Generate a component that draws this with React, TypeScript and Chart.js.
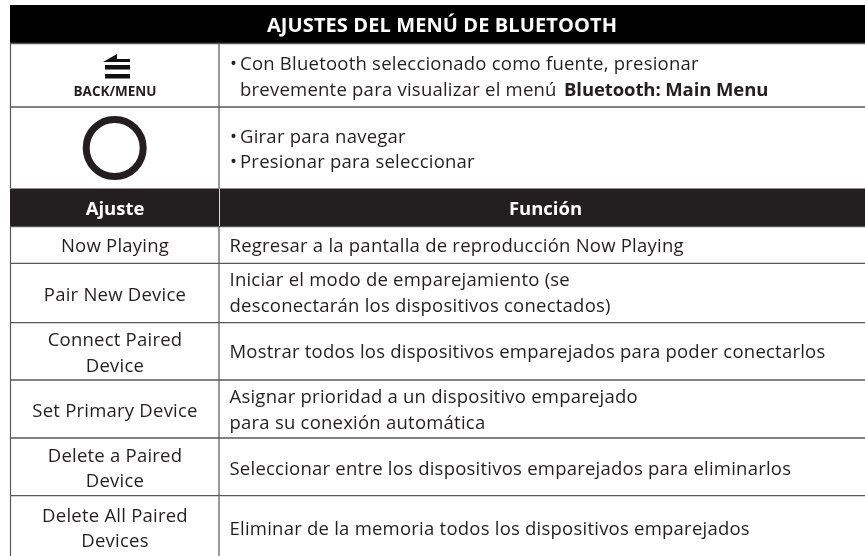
import React, { useEffect, useRef } from "react";
import { Chart, registerables } from "chart.js";

Chart.register(...registerables);

const W = 865;
const H = 556;
const FONT = '"Open Sans"';
const BODY_SIZE = 18.5;
const BODY_SPACING = "0.23px";
const INK = "#231f20";

const titleText = "AJUSTES DEL MENÚ DE BLUETOOTH";
const backLabel = "BACK/MENU";
const headerLabels = ["Ajuste", "Función"];
const settingLines = [
  ["Now Playing"],
  ["Pair New Device"],
  ["Connect Paired", "Device"],
  ["Set Primary Device"],
  ["Delete a Paired", "Device"],
  ["Delete All Paired", "Devices"],
];
const functionLines = [
  ["Regresar a la pantalla de reproducción Now Playing"],
  ["Iniciar el modo de emparejamiento (se", "desconectarán los dispositivos conectados)"],
  ["Mostrar todos los dispositivos emparejados para poder conectarlos"],
  ["Asignar prioridad a un dispositivo emparejado", "para su conexión automática"],
  ["Seleccionar entre los dispositivos emparejados para eliminarlos"],
  ["Eliminar de la memoria todos los dispositivos emparejados"],
];
const backIntro = ["Con Bluetooth seleccionado como fuente, presionar", "brevemente para visualizar el menú"];
const backBold = "Bluetooth: Main Menu";
const knobLines = ["Girar para navegar", "Presionar para seleccionar"];

const settingBaselines = [[252], [301], [346, 372], [417], [462, 487], [522, 547]];
const functionBaselines = [[252], [286, 312], [358], [403, 429], [475], [535]];
const ruleYs = [43.5, 107, 226.7, 263.3, 322.7, 380, 438, 495.7];

export default function App() {
  const ref = useRef<HTMLCanvasElement | null>(null);
  useEffect(() => {
    document.body.style.margin = "0";
    const tablePlugin = {
      id: "tablePlugin",
      beforeDatasetsDraw(chart: any) {
        const { ctx, scales } = chart;
        const X = (v: number) => scales.x.getPixelForValue(v);
        const Y = (v: number) => scales.y.getPixelForValue(v);
        ctx.save();
        ctx.fillStyle = "#000000";
        ctx.fillRect(X(10), Y(5), X(865) - X(10), Y(43) - Y(5));
        ctx.fillStyle = INK;
        ctx.fillRect(X(10), Y(188.5), X(865) - X(10), Y(226.5) - Y(188.5));
        ctx.restore();
      },
      afterDatasetsDraw(chart: any) {
        const { ctx, scales } = chart;
        const X = (v: number) => scales.x.getPixelForValue(v);
        const Y = (v: number) => scales.y.getPixelForValue(v);
        const text = (s: string, x: number, y: number, align: CanvasTextAlign, weight: number, size: number, color: string, sp = BODY_SPACING) => {
          ctx.font = `${weight} ${size}px ${FONT}`;
          (ctx as any).letterSpacing = sp;
          ctx.textAlign = align;
          ctx.textBaseline = "alphabetic";
          ctx.fillStyle = color;
          ctx.fillText(s, X(x), Y(y));
        };
        ctx.save();
        ctx.strokeStyle = "#d8d8d8";
        ctx.lineWidth = 1;
        ctx.beginPath();
        ctx.moveTo(X(219.5), Y(189));
        ctx.lineTo(X(219.5), Y(226));
        ctx.stroke();

        ctx.fillStyle = "#111111";
        ctx.beginPath();
        ctx.moveTo(X(103), Y(62));
        ctx.lineTo(X(117), Y(54));
        ctx.lineTo(X(117), Y(59));
        ctx.lineTo(X(130), Y(59));
        ctx.lineTo(X(130), Y(62));
        ctx.closePath();
        ctx.fill();
        ctx.fillRect(X(105), Y(65), X(130) - X(105), Y(69.5) - Y(65));
        ctx.fillRect(X(105), Y(74), X(130) - X(105), Y(78.5) - Y(74));

        text(titleText, 442, 32, "center", 700, 20, "#ffffff", "0.1px");
        text(backLabel, 115, 96, "center", 700, 13.5, INK, "0px");
        text(headerLabels[0], 115, 215, "center", 700, BODY_SIZE, "#ffffff", "0px");
        text(headerLabels[1], 545.5, 215, "center", 700, BODY_SIZE, "#ffffff", "0px");

        text("•", 230, 70, "left", 400, BODY_SIZE, INK);
        text(backIntro[0], 240, 70, "left", 400, BODY_SIZE, INK);
        text(backIntro[1], 240, 96, "left", 400, BODY_SIZE, INK);
        text(backBold, 564, 96, "left", 700, BODY_SIZE, INK, "-0.1px");
        text("•", 230, 143, "left", 400, BODY_SIZE, INK);
        text(knobLines[0], 240, 143, "left", 400, BODY_SIZE, INK);
        text("•", 230, 168, "left", 400, BODY_SIZE, INK);
        text(knobLines[1], 240, 168, "left", 400, BODY_SIZE, INK);

        settingLines.forEach((lines, i) =>
          lines.forEach((s, j) => text(s, 115, settingBaselines[i][j], "center", 400, BODY_SIZE, INK)),
        );
        functionLines.forEach((lines, i) =>
          lines.forEach((s, j) => text(s, 229.5, functionBaselines[i][j], "left", 400, BODY_SIZE, INK)),
        );
        ctx.restore();
      },
    };

    const ruleSets = ruleYs.map((y) => ({
      data: [{ x: 10, y }, { x: 865, y }],
      showLine: true,
      borderColor: "#58595b",
      borderWidth: 1.3,
      pointRadius: 0,
    }));
    const verticals = [
      { data: [{ x: 10.5, y: 43 }, { x: 10.5, y: 188 }], showLine: true, borderColor: "#58595b", borderWidth: 1.2, pointRadius: 0 },
      { data: [{ x: 10.5, y: 227 }, { x: 10.5, y: 556 }], showLine: true, borderColor: "#58595b", borderWidth: 1.2, pointRadius: 0 },
      { data: [{ x: 219, y: 43 }, { x: 219, y: 188 }], showLine: true, borderColor: "#58595b", borderWidth: 1.2, pointRadius: 0 },
      { data: [{ x: 219, y: 227 }, { x: 219, y: 556 }], showLine: true, borderColor: "#58595b", borderWidth: 1.2, pointRadius: 0 },
    ];
    const knob = [
      { data: [{ x: 114.7, y: 148 }], pointRadius: 28.5, pointBorderWidth: 7, pointBorderColor: INK, pointBackgroundColor: "#ffffff" },
      { data: [{ x: 114.7, y: 148 }], pointRadius: 28.5, pointBorderWidth: 0.6, pointBorderColor: "#8a8a8a", pointBackgroundColor: "rgba(0,0,0,0)" },
    ];

    const chart = new Chart(ref.current as HTMLCanvasElement, {
      type: "scatter",
      data: { datasets: [...ruleSets, ...verticals, ...knob] as any },
      options: {
        animation: false,
        responsive: false,
        layout: { padding: 0, autoPadding: false },
        plugins: { legend: { display: false }, tooltip: { enabled: false }, title: { display: false } },
        scales: {
          x: { type: "linear", min: 0, max: W, display: false },
          y: { type: "linear", min: 0, max: H, reverse: true, display: false },
        },
      },
      plugins: [tablePlugin],
    });
    return () => chart.destroy();
  }, []);
  return (
    <div style={{ position: "absolute", left: 0, top: 0, width: W, height: H, background: "#fff" }}>
      <canvas ref={ref} width={W} height={H} style={{ display: "block" }} />
    </div>
  );
}
